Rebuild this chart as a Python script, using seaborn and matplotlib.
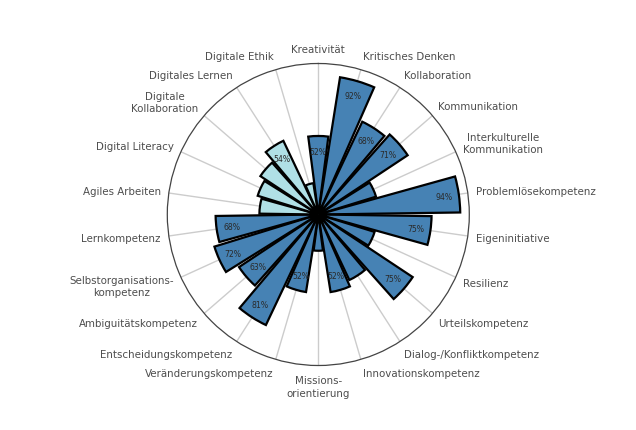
import numpy as np
import pandas as pd
import matplotlib
matplotlib.use("Agg")
import matplotlib.pyplot as plt
import seaborn as sns

categories = [
    "Kreativität", "Kritisches Denken", "Kollaboration", "Kommunikation",
    "Interkulturelle\nKommunikation", "Problemlösekompetenz", "Eigeninitiative",
    "Resilienz", "Urteilskompetenz", "Dialog-/Konfliktkompetenz",
    "Innovationskompetenz", "Missions-\norientierung", "Veränderungskompetenz",
    "Entscheidungskompetenz", "Ambiguitätskompetenz",
    "Selbstorganisations-\nkompetenz", "Lernkompetenz", "Agiles Arbeiten",
    "Digital Literacy", "Digitale\nKollaboration", "Digitales Lernen",
    "Digitale Ethik",
]
values = [52, 92, 68, 71, 40, 94, 75, 39, 75, 48, 52, 24, 52, 81, 63, 72, 68,
          39, 42, 46, 54, 21]
groups = ["Kern"] * 17 + ["Digital"] * 5
group_colors = {"Kern": "#4682B4", "Digital": "#B0E0E6"}

n = len(categories)
theta = np.arange(n) * 2 * np.pi / n
df = pd.DataFrame({"theta": theta, "value": values, "group": groups,
                   "cat": categories})

sns.set_style("white")
plt.rcParams["font.family"] = ["DejaVu Sans"]

W, H = 636, 431
fig = plt.figure(figsize=(W / 100, H / 100), dpi=100)
cx, cy, R = 318.3, 215.5, 151.0
ax = fig.add_axes([(cx - R) / W, (H - cy - R) / H, 2 * R / W, 2 * R / H],
                  projection="polar")
ax.set_theta_zero_location("N")
ax.set_theta_direction(-1)
ax.set_axisbelow(True)

sns.barplot(data=df, x="theta", y="value", hue="group", palette=group_colors,
            saturation=1, native_scale=True, width=0.9, dodge=False,
            edgecolor="black", linewidth=1.6, legend=False, ax=ax, orient="x",
            errorbar=None, zorder=3)

ax.set_ylim(0, 100)
ax.set_xlim(0, 2 * np.pi)
ax.set_xlabel("")
ax.set_ylabel("")
ax.set_yticks([])
ax.set_xticks(theta)
ax.set_xticklabels([])
ax.xaxis.grid(True, color="#cccccc", linewidth=1.0)
ax.yaxis.grid(False)
ax.tick_params(axis="x", direction="out", length=4.5, width=1.0,
               color="#444444", pad=0)
ax.spines["polar"].set_color("#444444")
ax.spines["polar"].set_linewidth(0.9)

# percentage labels inside bar ends
for t, v in zip(theta, values):
    if v >= 50:
        ax.text(t, v - 10, f"{v}%", ha="center", va="center", fontsize=5.6,
                color="#2a2a2a", zorder=5)

# category labels around the circle
for t, lab in zip(theta, categories):
    s, c = np.sin(t), np.cos(t)
    nlines = lab.count("\n") + 1
    hh = 13 * nlines / 2
    if s > 0.1:
        ha = "left"
    elif s < -0.1:
        ha = "right"
    else:
        ha = "center"
    dx = s * 8
    dy = c * 8 + c * hh
    ax.annotate(lab, xy=(t, 100), xytext=(dx, dy), textcoords="offset pixels",
                ha=ha, va="center", multialignment="center", fontsize=7.35,
                color="#4d4d4d", annotation_clip=False, linespacing=1.3)

fig.savefig("out.png", dpi=100)
